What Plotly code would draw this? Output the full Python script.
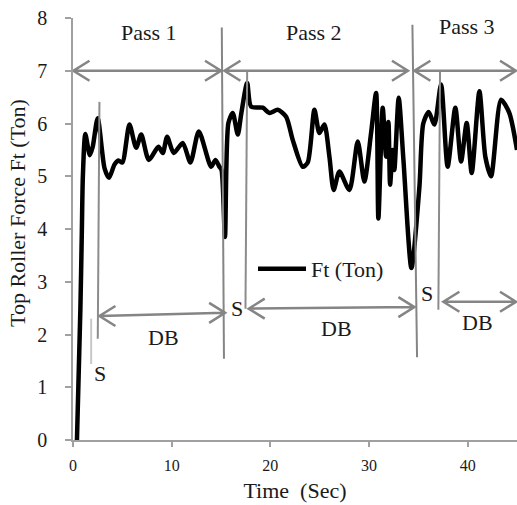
import plotly.graph_objects as go

# ---- data ----
time_sec = [0.4, 0.75, 0.9, 1.0, 1.25, 1.7, 2.0, 2.5, 3.2, 3.65, 4.2, 4.6, 5.0,
            5.72, 6.4, 6.91, 7.68, 8.66, 9.1, 9.54, 10.21, 11.12, 11.9, 12.75,
            14.0, 14.44, 14.84, 15.05, 15.4, 15.75, 16.19, 16.7, 17.04, 17.65,
            18.05, 19.23, 19.91, 20.75, 21.6, 22.27, 23.28, 23.79, 24.47, 24.97,
            25.48, 25.99, 26.42, 27.0, 28.01, 28.86, 29.53, 30.21, 30.72, 30.95,
            31.39, 31.73, 31.97, 32.14, 32.4, 32.57, 33.01, 33.49, 34.3, 35.11,
            35.5, 36.05, 36.63, 37.3, 37.97, 38.75, 39.33, 39.9, 40.41, 41.19,
            41.79, 42.37, 43.38, 44.22, 45.0]
force_ton = [0.0, 2.5, 4.0, 5.0, 5.8, 5.4, 5.56, 6.1, 5.15, 4.97, 5.22, 5.3, 5.26,
             5.98, 5.54, 5.79, 5.31, 5.56, 5.44, 5.75, 5.44, 5.63, 5.26, 5.85,
             5.18, 5.31, 5.18, 5.12, 3.85, 6.01, 6.2, 5.79, 6.17, 6.77,
             6.32, 6.3, 6.2, 6.26, 6.13, 5.69, 5.18, 5.26, 6.26, 5.82,
             5.98, 5.37, 4.74, 5.09, 4.74, 5.66, 4.9, 5.82, 6.58, 4.2,
             6.3, 5.37, 6.03, 4.84, 5.5, 5.12, 6.49, 5.31, 3.26, 4.8,
             6.0, 6.22, 5.98, 6.74, 5.18, 6.3, 5.28, 6.01, 5.06, 6.61,
             5.37, 5.0, 6.45, 6.2, 5.5]
series_name = "Ft (Ton)"
x_ticks = [0, 10, 20, 30, 40]
y_ticks = [0, 1, 2, 3, 4, 5, 6, 7, 8]
pass_labels = ["Pass 1", "Pass 2", "Pass 3"]

# ---- layout constants ----
W, H = 517, 505
ML, MR, MT, MB = 73, 0, 18, 65
XR = [0, 45]
YR = [0, 8]
PXX = (W - ML - MR) / (XR[1] - XR[0])   # pixels per x unit
PXY = (H - MT - MB) / (YR[1] - YR[0])   # pixels per y unit
FONT = "Liberation Serif, Times New Roman, serif"
GRAY = "#858585"
AX = "#a0a0a0"
TXT = "#1a1a1a"

fig = go.Figure()
fig.add_trace(go.Scatter(
    x=time_sec, y=force_ton, mode="lines", name=series_name,
    line=dict(color="black", width=4.5, shape="spline", smoothing=0.7),
))

shapes = []


def darrow(x0, y0, x1, y1, color=GRAY, width=2.5, hx=16, hy=10):
    dx, dy = hx / PXX, hy / PXY
    p = (f"M{x0},{y0} L{x1},{y1} "
         f"M{x0 + dx},{y0 + dy} L{x0},{y0} L{x0 + dx},{y0 - dy} "
         f"M{x1 - dx},{y1 + dy} L{x1},{y1} L{x1 - dx},{y1 - dy}")
    shapes.append(dict(type="path", path=p, xref="x", yref="y",
                       line=dict(color=color, width=width)))


def seg(x0, y0, x1, y1, color=GRAY, width=2):
    shapes.append(dict(type="line", x0=x0, y0=y0, x1=x1, y1=y1, xref="x", yref="y",
                       line=dict(color=color, width=width)))


# pass arrows
darrow(0.05, 7.0, 15.0, 7.0)
darrow(15.35, 7.0, 33.95, 7.0)
darrow(34.6, 7.0, 44.9, 7.0)
# dwell arrows
darrow(2.68, 2.35, 15.42, 2.41)
darrow(17.81, 2.49, 34.6, 2.52)
darrow(37.54, 2.62, 44.9, 2.62)
# pass dividers
seg(15.08, 7.82, 15.3, 1.54, width=2)
seg(34.4, 7.87, 34.87, 1.57, width=2)
# S markers
seg(2.68, 6.41, 2.51, 1.92, color="#8c8c8c", width=2)
seg(1.84, 2.30, 1.84, 1.44, color="#c8c8c8", width=2)
seg(17.65, 6.98, 17.48, 2.49, color="#8c8c8c", width=2)
seg(37.2, 6.98, 37.03, 2.47, color="#8c8c8c", width=2)

annots = []


def label(x, y, t):
    annots.append(dict(x=x, y=y, xref="x", yref="y", text=t, showarrow=False,
                       font=dict(family=FONT, size=22, color=TXT),
                       xanchor="center", yanchor="middle"))


label(7.68, 7.72, pass_labels[0])
label(24.47, 7.72, pass_labels[1])
label(39.9, 7.84, pass_labels[2])
label(2.76, 1.27, "S")
label(16.67, 2.5, "S")
label(35.89, 2.77, "S")
label(9.2, 1.95, "DB")
label(26.67, 2.12, "DB")
label(40.95, 2.22, "DB")

# y-axis title placed as annotation (pixel position converted to paper coords)
annots.append(dict(x=(17 - ML) / (W - ML - MR), y=(H - MB - 213) / (H - MT - MB),
                   xref="paper", yref="paper", text="Top Roller Force Ft (Ton)",
                   showarrow=False, textangle=-90, xanchor="center", yanchor="middle",
                   font=dict(family=FONT, size=22, color=TXT)))

fig.update_layout(
    width=W, height=H,
    margin=dict(l=ML, r=MR, t=MT, b=MB, pad=0),
    paper_bgcolor="white", plot_bgcolor="white",
    font=dict(family=FONT, color=TXT),
    showlegend=True,
    legend=dict(x=(253 - ML) / (W - ML - MR), y=(H - MB - 269) / (H - MT - MB),
                xanchor="left", yanchor="middle", bgcolor="rgba(0,0,0,0)",
                font=dict(family=FONT, size=22, color=TXT),
                itemwidth=48, borderwidth=0),
    xaxis=dict(range=XR, tickmode="array", tickvals=x_ticks, ticktext=[str(v) for v in x_ticks],
               showgrid=False, zeroline=False, showline=True, linecolor=AX, linewidth=1.5,
               ticks="outside", ticklen=5, tickcolor=AX, tickwidth=1.5,
               ticklabelstandoff=5,
               tickfont=dict(family=FONT, size=16, color=TXT),
               title=dict(text="Time  (Sec)", font=dict(family=FONT, size=22, color=TXT),
                          standoff=10)),
    yaxis=dict(range=YR, tickmode="array", tickvals=y_ticks, ticktext=[str(v) for v in y_ticks],
               showgrid=False, zeroline=False, showline=True, linecolor=AX, linewidth=1.5,
               ticks="outside", ticklen=6, tickcolor=AX, tickwidth=1.5,
               ticklabelstandoff=14,
               tickfont=dict(family=FONT, size=20, color=TXT)),
    shapes=shapes,
    annotations=annots,
)

fig.write_html("out.html", config={"displayModeBar": False},
               post_script="document.body.style.margin='0px';")
